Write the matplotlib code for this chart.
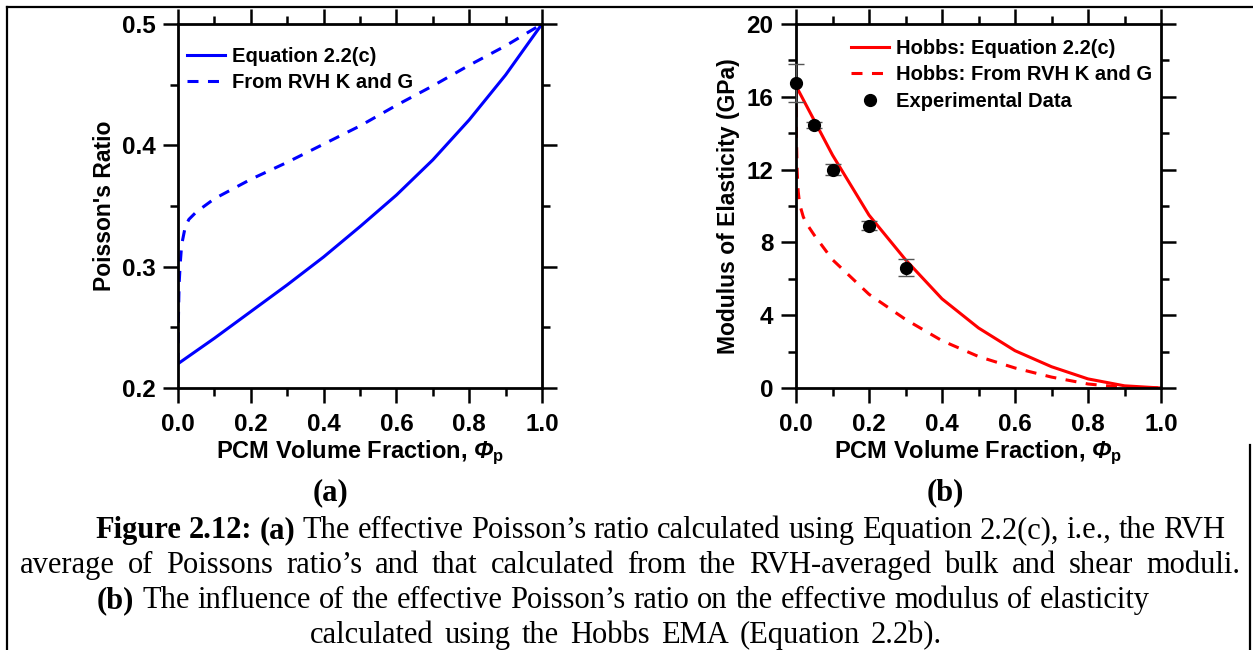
import numpy as np
import matplotlib.pyplot as plt
from matplotlib.ticker import MultipleLocator
from matplotlib.lines import Line2D

# Data
phi = [0.0, 0.1, 0.2, 0.3, 0.4, 0.5, 0.6, 0.7, 0.8, 0.9, 1.0]
nu_eq = [0.22, 0.241, 0.263, 0.285, 0.308, 0.333, 0.359, 0.388, 0.421, 0.458, 0.5]

phi_rvh = [0.0, 0.001, 0.003, 0.006, 0.01, 0.02, 0.03, 0.05,
           0.1, 0.2, 0.3, 0.4, 0.5, 0.6, 0.7, 0.8, 0.9, 1.0]
nu_rvh = [0.22, 0.255, 0.285, 0.302, 0.318, 0.333, 0.339, 0.345,
          0.356, 0.372, 0.386, 0.401, 0.416, 0.433, 0.449, 0.466, 0.482, 0.5]

E_eq = [16.6, 12.8, 9.5, 7.05, 4.9, 3.3, 2.05, 1.17, 0.5, 0.12, 0.0]
E_rvh = [16.6, 14.0, 12.0, 10.8, 10.1, 9.4, 9.0, 8.4,
         7.05, 5.15, 3.77, 2.6, 1.73, 1.1, 0.6, 0.22, 0.03, 0.0]

exp_phi = [0.0, 0.05, 0.1, 0.2, 0.3]
exp_E = [16.75, 14.45, 12.0, 8.92, 6.62]
exp_err = [1.05, 0.15, 0.3, 0.25, 0.46]

caption = [
    [("Figure 2.12:", "bold"), ("(a)", "bold"),
     ("The effective Poisson\u2019s ratio calculated using Equation 2.2(c), i.e., the RVH", "normal")],
    [("average of Poissons ratio\u2019s and that calculated from the RVH-averaged bulk and shear moduli.", "normal")],
    [("(b)", "bold"), ("The influence of the effective Poisson\u2019s ratio on the effective modulus of elasticity", "normal")],
    [("calculated using the Hobbs EMA (Equation 2.2b).", "normal")],
]
# left / right pixel extents of each caption line and its baseline
caption_span = [(95, 1225), (20, 1240), (97, 1150), (310, 942)]
caption_y = [538, 573, 608, 643]

plt.rcParams['font.family'] = 'Liberation Sans'
plt.rcParams['font.weight'] = 'bold'
plt.rcParams['axes.labelweight'] = 'bold'
plt.rcParams['mathtext.fontset'] = 'custom'
plt.rcParams['mathtext.it'] = 'Liberation Sans:italic:bold'
plt.rcParams['mathtext.bfit'] = 'Liberation Sans:italic:bold'
plt.rcParams['mathtext.rm'] = 'Liberation Sans'

W, H = 1253, 650
fig = plt.figure(figsize=(W / 100, H / 100), dpi=100)

ax1 = fig.add_axes([178 / W, 1 - 388 / H, 364 / W, 364 / H])
ax2 = fig.add_axes([796 / W, 1 - 388 / H, 365 / W, 364 / H])

lw = 2.2
ax1.plot(phi, nu_eq, color='#0000ff', lw=lw, label='Equation 2.2(c)')
ax1.plot(phi_rvh, nu_rvh, color='#0000ff', lw=lw, dashes=(3.6, 3.1),
         label='From RVH K and G')
ax1.set_xlim(0, 1)
ax1.set_ylim(0.2, 0.5)
ax1.yaxis.set_major_locator(MultipleLocator(0.1))
ax1.yaxis.set_minor_locator(MultipleLocator(0.05))
ax1.yaxis.set_major_formatter(plt.FormatStrFormatter('%.1f'))
ax1.set_ylabel("Poisson's Ratio", fontsize=16.5)
ax1.yaxis.set_label_coords(-0.203, 0.5)

ax2.plot(phi, E_eq, color='#ff0000', lw=lw, label='Hobbs: Equation 2.2(c)')
ax2.plot(phi_rvh, E_rvh, color='#ff0000', lw=lw, dashes=(3.6, 3.1),
         label='Hobbs: From RVH K and G')
ax2.errorbar(exp_phi, exp_E, yerr=exp_err, fmt='none', ecolor='#555555',
             elinewidth=1.0, capsize=5.5, capthick=1.0, clip_on=False, zorder=3)
ax2.plot(exp_phi, exp_E, 'o', color='black', ms=8.5, ls='none',
         label='Experimental Data', clip_on=False, zorder=4)
ax2.set_xlim(0, 1)
ax2.set_ylim(0, 20)
ax2.yaxis.set_major_locator(MultipleLocator(4))
ax2.yaxis.set_minor_locator(MultipleLocator(2))
ax2.set_ylabel("Modulus of Elasticity (GPa)", fontsize=16.5)
ax2.yaxis.set_label_coords(-0.184, 0.5)

for ax in (ax1, ax2):
    ax.xaxis.set_major_locator(MultipleLocator(0.2))
    ax.xaxis.set_minor_locator(MultipleLocator(0.1))
    ax.xaxis.set_major_formatter(plt.FormatStrFormatter('%.1f'))
    ax.set_xlabel(r'PCM Volume Fraction, $\mathbfit{\Phi}_{\mathrm{p}}$', fontsize=17)
    ax.xaxis.set_label_coords(0.5, -0.178)
    ax.xaxis.label.set_va('center')
    ax.yaxis.label.set_va('center')
    for s in ax.spines.values():
        s.set_linewidth(2.0)
    ax.tick_params(which='both', direction='out', top=True, right=True,
                   width=1.8, labelsize=17.5)
    ax.tick_params(which='major', length=10.8, pad=5.5)
    ax.tick_params(axis='x', which='major', pad=7)
    ax.tick_params(which='minor', length=5.8)

leg_kw = dict(loc='upper left', frameon=False, fontsize=14.5, borderpad=0,
              handlelength=1.9, handletextpad=0.35, labelspacing=0.38,
              borderaxespad=0)
ax1.legend(bbox_to_anchor=(0.025, 0.938), **leg_kw)
ax2.legend(bbox_to_anchor=(0.151, 0.960), **leg_kw)

# sub-figure labels
serif = 'Liberation Serif'
cap_fs = 22
fig.text(330 / W, 1 - 500 / H, '(a)', family=serif, weight='bold', fontsize=cap_fs,
         ha='center', va='baseline')
fig.text(945 / W, 1 - 500 / H, '(b)', family=serif, weight='bold', fontsize=cap_fs,
         ha='center', va='baseline')

# caption: words spread to fill each line's measured span
renderer = fig.canvas.get_renderer()


def text_width(s, weight):
    t = fig.text(0, 0, s, family=serif, weight=weight, fontsize=cap_fs)
    w = t.get_window_extent(renderer).width
    t.remove()
    return w


for pieces, (x0, x1), yb in zip(caption, caption_span, caption_y):
    words = [(w, wt) for s, wt in pieces for w in s.split(' ')]
    widths = [text_width(w, wt) for w, wt in words]
    gap = (x1 - x0 - sum(widths)) / (len(words) - 1)
    x = x0
    for (w, wt), wd in zip(words, widths):
        fig.text(x / W, 1 - yb / H, w, family=serif, weight=wt, fontsize=cap_fs,
                 ha='left', va='baseline')
        x += wd + gap

# page border lines
fig.add_artist(Line2D([7 / W, 1], [1 - 7 / H, 1 - 7 / H], color='black', lw=1.6,
                      transform=fig.transFigure))
fig.add_artist(Line2D([7 / W, 7 / W], [0, 1 - 7 / H], color='black', lw=1.6,
                      transform=fig.transFigure))
fig.add_artist(Line2D([1250 / W, 1250 / W], [0, 1 - 445 / H], color='black', lw=1.6,
                      transform=fig.transFigure))

fig.savefig('out.png', dpi=100)
